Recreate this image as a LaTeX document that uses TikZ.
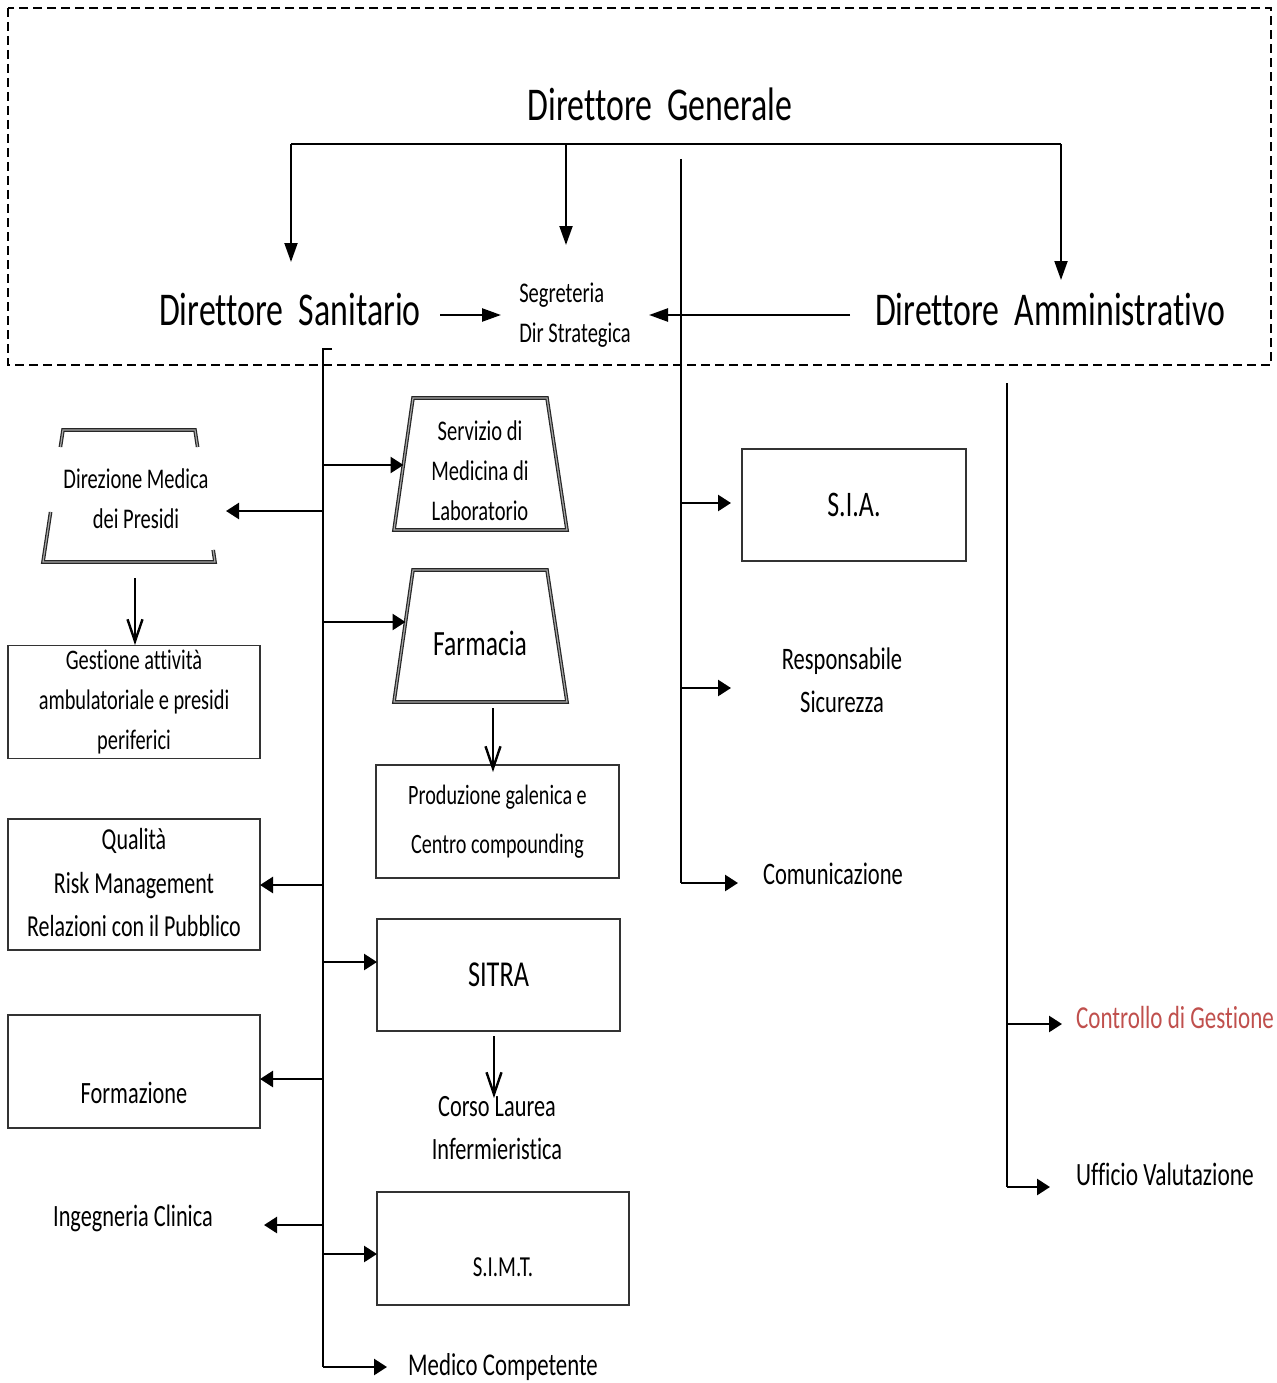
\documentclass[tikz,border=0pt]{standalone}
\usepackage{fontspec}
\setmainfont{Carlito}[FakeStretch=0.72, Ligatures=NoCommon]
\usetikzlibrary{arrows.meta,calc}
\definecolor{ctrlred}{RGB}{192,80,77}
\newcommand\fsz[2]{\fontsize{#1}{#2}\selectfont}

\begin{document}
\begin{tikzpicture}[x=1pt,y=-1pt,
  every node/.style={inner sep=0pt, outer sep=0pt, align=center},
  frame/.style={draw=black, line width=2.6pt, dash pattern=on 9pt off 5pt},
  bus/.style={line width=2.4pt},
  trunk/.style={line width=2.6pt},
  toparr/.style={line width=2pt,-{Triangle[length=19pt,width=13pt]}},
  brarr/.style={line width=2.6pt,-{Triangle[length=13pt,width=16pt]}},
  openarr/.style={line width=2.4pt,-{Straight Barb[length=22pt,width=15pt]}},
  box/.style={draw=black!80, line width=1.8pt, minimum width=252pt},
  dblline/.style={draw=black!85, double=black!35, double distance=1.2pt, line width=1.2pt},
  big/.style={font=\fsz{47}{56}},
]
\useasboundingbox (0,0) rectangle (1276,1383);

% management frame
\draw[frame] (8,8) rectangle (1271,365);

% top level
\node[big] (dg) at (660,104) {Direttore\ \ Generale};
\node[big, minimum width=300pt, minimum height=96pt] (ds) at (290,310) {Direttore\ \ Sanitario};
\node[font=\fsz{28.5}{40}, align=left, minimum width=148pt, minimum height=140pt] (seg) at (575,315) {Segreteria\\Dir Strategica};
\node[big, minimum width=400pt, minimum height=60pt] (da) at (1050,310) {Direttore\ \ Amministrativo};

\coordinate (busl) at (291,144);
\coordinate (busm) at (566,144);
\coordinate (busr) at (1061,144);
\draw[bus] (busl) -- (busr);
\draw[toparr] (busl) -- (busl |- ds.north);
\draw[toparr] (busm) -- (busm |- seg.north);
\draw[toparr] (busr) -- (busr |- da.north);
\draw[toparr, line width=2.4pt] (ds.east |- seg.west) -- (seg.west);
\draw[toparr, line width=2.4pt] (da.west |- seg.east) -- (seg.east);

% health director's trunk
\coordinate (sT) at (323,349);
\coordinate (sB) at (323,1367);
\draw[trunk] (sT) ++(9,0) -- (sT) -- (sB);

% left column
\node[font=\fsz{28.5}{40}, minimum width=180pt, minimum height=132pt] (dm) at (136,499) {Direzione Medica\\dei Presidi};
\draw[dblline] (60.4,447) -- (63,430) -- (195,430) -- (197.6,447);
\draw[dblline] (50.6,512) -- (43,562) -- (215,562) -- (213.2,550);

\node[box, minimum height=113pt, font=\fsz{28.3}{40}] (gest) at (134,702) {Gestione attività\\ambulatoriale e presidi\\periferici};
\node[box, minimum height=129pt, font=\fsz{30.5}{43.5}] (qual) at (134,884.5) {\raisebox{3pt}{\begin{tabular}{@{}c@{}}Qualità\\Risk Management\\Relazioni con il Pubblico\end{tabular}}};
\node[box, minimum height=113pt, font=\fsz{31}{40}] (form) at (134,1071.5) {\raisebox{-32pt}[0pt][0pt]{Formazione}};
\node[font=\fsz{31}{40}, minimum width=262pt] (ing) at (133,1218) {Ingegneria Clinica};

% middle column: trapezoid units
\draw[dblline] (413,398) -- (547,398) -- (567,530) -- (394,530) -- cycle;
\node[font=\fsz{28.5}{40}, minimum width=153pt] (lab) at (480,471) {Servizio di\\Medicina di\\Laboratorio};
\draw[dblline] (413,570) -- (547,570) -- (567,702) -- (394,702) -- cycle;
\node[font=\fsz{35.5}{40}, minimum width=149pt, minimum height=118pt] (farm) at (480,643) {Farmacia};

\node[box, minimum width=243pt, minimum height=113pt, font=\fsz{28}{49}] (prod) at (497.5,821.5) {Produzione galenica e\\Centro compounding};
\node[box, minimum width=243pt, minimum height=112pt, font=\fsz{36.5}{40}] (sitra) at (498.5,975) {SITRA};
\node[font=\fsz{31}{43}] (corso) at (497,1128) {Corso Laurea\\Infermieristica};
\node[box, minimum width=252pt, minimum height=113pt, font=\fsz{29}{40}] (simt) at (503,1248.5) {\raisebox{-28pt}[0pt][0pt]{S.I.M.T.}};
\node[font=\fsz{31.7}{40}, minimum width=232pt] (med) at (503,1367) {Medico Competente};

\draw[openarr] (dm.south) ++(-1,13) -- ++(0,67);
\draw[openarr] (farm.south) ++(13,6) -- ++(0,64);
\draw[openarr] (sitra.south) ++(-4.5,5) -- ++(0,62);

\coordinate (b1) at (323,465);
\coordinate (b2) at (323,511);
\coordinate (b3) at (323,622);
\coordinate (b4) at (323,885);
\coordinate (b5) at (323,962);
\coordinate (b6) at (323,1079);
\coordinate (b7) at (323,1225);
\coordinate (b8) at (323,1254);
\draw[brarr] (b1) -- (lab.west |- b1);
\draw[brarr] (b2) -- (dm.east |- b2);
\draw[brarr] (b3) -- (farm.west |- b3);
\draw[brarr] (b4) -- (qual.east |- b4);
\draw[brarr] (b5) -- (sitra.west |- b5);
\draw[brarr] (b6) -- (form.east |- b6);
\draw[brarr] (b7) -- (ing.east |- b7);
\draw[brarr] (b8) -- (simt.west |- b8);
\draw[brarr] (sB) -- (med.west |- sB);

% general director's staff trunk
\coordinate (rT) at (681,159);
\coordinate (rB) at (681,883);
\draw[trunk] (rT) -- (rB);
\node[box, minimum width=224pt, minimum height=112pt, font=\fsz{36}{40}] (sia) at (854,505) {S.I.A.};
\node[font=\fsz{31.3}{43}, minimum width=222pt] (resp) at (842,680) {Responsabile\\Sicurezza};
\node[font=\fsz{31.3}{40}, minimum width=190pt] (comm) at (833,874) {Comunicazione};
\coordinate (r1) at (681,503);
\coordinate (r2) at (681,688);
\draw[brarr, shorten >=11pt] (r1) -- (sia.west |- r1);
\draw[brarr] (r2) -- (resp.west |- r2);
\draw[brarr] (rB) -- (comm.west |- rB);

% administrative director's trunk
\coordinate (aT) at (1007,383);
\coordinate (aB) at (1007,1187);
\draw[trunk] (aT) -- (aB);
\node[font=\fsz{32}{40}, text=ctrlred, minimum width=226pt] (ctrl) at (1175,1017) {Controllo di Gestione};
\node[font=\fsz{32.5}{40}, minimum width=230pt] (uff) at (1165,1174) {Ufficio Valutazione};
\coordinate (a1) at (1007,1024);
\draw[brarr] (a1) -- (ctrl.west |- a1);
\draw[brarr] (aB) -- (uff.west |- aB);
\end{tikzpicture}
\end{document}
